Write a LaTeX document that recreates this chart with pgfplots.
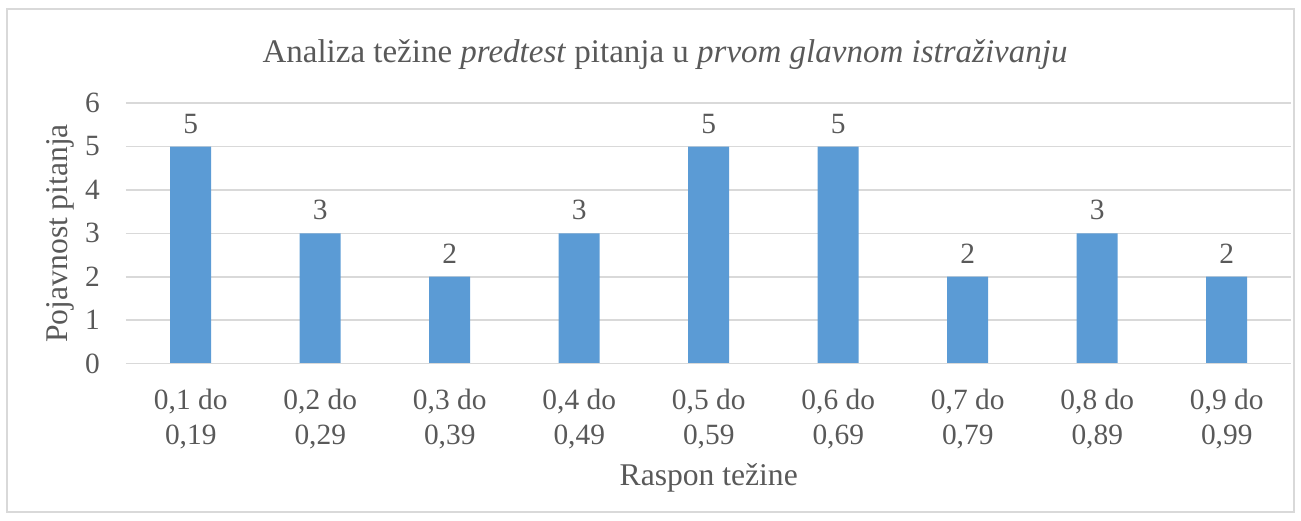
\documentclass[border=0pt]{standalone}
\usepackage{pgfplots}
\pgfplotsset{compat=1.18}
\usepackage{fontspec}
\setmainfont{Liberation Serif}
\definecolor{barblue}{HTML}{5B9BD5}
\definecolor{txtgray}{HTML}{595959}
\definecolor{gridgray}{HTML}{D9D9D9}
\begin{document}
\begin{tikzpicture}
\useasboundingbox (-63pt,-78.25pt) rectangle (587.5pt,181.75pt);
\draw[gridgray, line width=0.8pt] (-59.5pt,-74.25pt) rectangle (584pt,177.25pt);
\begin{axis}[
  at={(0pt,0pt)}, anchor=south west,
  scale only axis,
  width=582.75pt, height=130.2pt,
  xmin=-0.5, xmax=8.5,
  ymin=0, ymax=6,
  ytick={0,...,6},
  xtick={0,...,8},
  xticklabels={{0,1 do\\0,19},{0,2 do\\0,29},{0,3 do\\0,39},{0,4 do\\0,49},{0,5 do\\0,59},{0,6 do\\0,69},{0,7 do\\0,79},{0,8 do\\0,89},{0,9 do\\0,99}},
  xticklabel style={align=center, font=\fontsize{14.7}{17.25}\selectfont, text=txtgray, yshift=-9.5pt},
  yticklabel style={font=\fontsize{14.7}{17.25}\selectfont, text=txtgray, xshift=-9.5pt},
  /pgf/number format/assume math mode=true,
  major tick length=0pt,
  axis line style={draw=none},
  axis x line*=bottom,
  ymajorgrids,
  grid style={gridgray, line width=0.8pt},
  ybar, bar width=20.5pt,
  nodes near coords,
  every node near coord/.append style={font=\fontsize{14.7}{17.25}\selectfont, text=txtgray, yshift=3pt},
  title={Analiza težine \textit{predtest} pitanja u \textit{prvom glavnom istraživanju}},
  title style={at={(axis description cs:0.4625,1)}, anchor=center, yshift=18.25pt, font=\fontsize{16.5}{19}\selectfont, text=txtgray},
  xlabel={Raspon težine},
  xlabel style={at={(axis description cs:0.5,0)}, anchor=center, yshift=-57.25pt, font=\fontsize{15.8}{19}\selectfont, text=txtgray},
  ylabel={Pojavnost pitanja},
  ylabel style={at={(axis description cs:-0.0566,0.5)}, anchor=center, font=\fontsize{15.8}{19}\selectfont, text=txtgray},
  clip=false,
]
\addplot[fill=barblue, draw=none] coordinates {
  (0,5) (1,3) (2,2) (3,3) (4,5) (5,5) (6,2) (7,3) (8,2)
};
\draw[gridgray, line width=0.8pt] (rel axis cs:0,0) -- (rel axis cs:1,0);
\end{axis}
\end{tikzpicture}
\end{document}
